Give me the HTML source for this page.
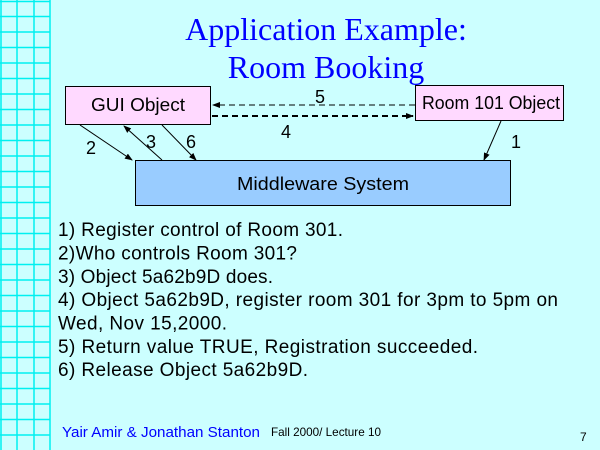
<!DOCTYPE html>
<html><head><style>
body{margin:0;width:600px;height:450px;overflow:hidden;background:#ccffff;font-family:"Liberation Sans",Arial,sans-serif}
</style></head><body>
<svg width="600" height="450" viewBox="0 0 600 450" xmlns="http://www.w3.org/2000/svg" style="position:absolute;left:0;top:0">
<rect width="600" height="450" fill="#ccffff"/>
<g stroke="#00f0f0" stroke-width="1.5">
<line x1="1" y1="0" x2="1" y2="450"/><line x1="17" y1="0" x2="17" y2="450"/><line x1="34" y1="0" x2="34" y2="450"/><line x1="50" y1="0" x2="50" y2="450"/>
<path d="M0 1.5H50 M0 16.5H50 M0 32H50 M0 47.5H50 M0 63H50 M0 78.5H50 M0 94H50 M0 109.5H50 M0 125H50 M0 140.5H50 M0 156H50 M0 171.5H50 M0 187H50 M0 202.5H50 M0 218H50 M0 233.5H50 M0 249H50 M0 264.5H50 M0 280H50 M0 295.5H50 M0 311H50 M0 326.5H50 M0 342H50 M0 357.5H50 M0 373H50 M0 388.5H50 M0 404H50 M0 419.5H50 M0 435H50"/>
</g>
<g font-family="Liberation Serif,serif" font-size="32" fill="#0000ff" text-anchor="middle">
<text x="326" y="40">Application Example:</text>
<text x="326" y="78">Room Booking</text>
</g>
<defs><marker id="a" markerWidth="8" markerHeight="8" refX="7" refY="4" orient="auto" markerUnits="userSpaceOnUse"><path d="M0,1 L8,4 L0,7z" fill="#000"/></marker></defs>
<rect x="65.5" y="86.5" width="145" height="38" fill="#ffd9ff" stroke="#000"/>
<rect x="415.5" y="85.5" width="148" height="35" fill="#ffd9ff" stroke="#000"/>
<rect x="135.5" y="160.5" width="375" height="45" fill="#99ccff" stroke="#000"/>
<g font-size="18" fill="#000">
<text x="91" y="111" textLength="94" lengthAdjust="spacingAndGlyphs">GUI Object</text>
<text x="422" y="109" textLength="138" lengthAdjust="spacingAndGlyphs">Room 101 Object</text>
<text x="237" y="190" textLength="172" lengthAdjust="spacingAndGlyphs">Middleware System</text>
</g>
<g stroke="#000" fill="none">
<line x1="415" y1="105" x2="213" y2="105" stroke-dasharray="6,4" marker-end="url(#a)"/>
<line x1="212" y1="116" x2="413" y2="116" stroke-width="2" stroke-dasharray="6,4" marker-end="url(#a)"/>
<line x1="80" y1="125" x2="132" y2="160" marker-end="url(#a)"/>
<line x1="162" y1="160" x2="124" y2="126" marker-end="url(#a)"/>
<line x1="162" y1="125" x2="196" y2="160" marker-end="url(#a)"/>
<line x1="501" y1="121" x2="484" y2="160" marker-end="url(#a)"/>
</g>
<g font-size="18" fill="#000" text-anchor="middle">
<text x="320" y="103">5</text><text x="286" y="138">4</text>
<text x="91" y="154">2</text><text x="151" y="148">3</text>
<text x="191" y="148">6</text><text x="516" y="148">1</text>
</g>
<g font-size="19" fill="#000" lengthAdjust="spacingAndGlyphs">
<text x="58" y="236" textLength="285">1) Register control of Room 301.</text>
<text x="58" y="259.5" textLength="239">2)Who controls Room 301?</text>
<text x="58" y="283" textLength="215">3) Object 5a62b9D does.</text>
<text x="58" y="306" textLength="500">4) Object 5a62b9D, register room 301 for 3pm to 5pm on</text>
<text x="58" y="329.5" textLength="169">Wed, Nov 15,2000.</text>
<text x="58" y="353" textLength="420">5) Return value TRUE, Registration succeeded.</text>
<text x="58" y="376" textLength="250">6) Release Object 5a62b9D.</text>
</g>
<text x="62" y="437" font-size="15" fill="#0000ff" textLength="198" lengthAdjust="spacingAndGlyphs">Yair Amir &amp; Jonathan Stanton</text>
<text x="271" y="436" font-size="12" fill="#000" textLength="110" lengthAdjust="spacingAndGlyphs">Fall 2000/ Lecture 10</text>
<text x="580" y="441" font-size="12" fill="#000">7</text>
</svg>
</body></html>
